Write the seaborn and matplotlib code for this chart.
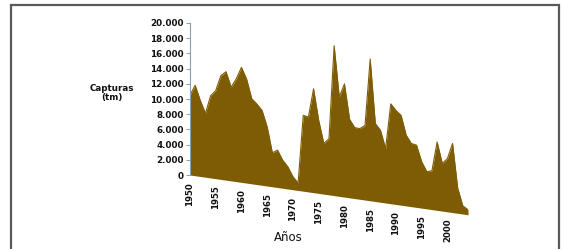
import matplotlib
matplotlib.use("Agg")
import matplotlib.pyplot as plt
import seaborn as sns
import numpy as np
import pandas as pd
from matplotlib.patches import Rectangle
from matplotlib.ticker import FuncFormatter

# ---- data ----
years = list(range(1950, 2005))
capturas = [10500, 11900, 10000, 8400, 10800, 11600, 13650, 14270, 12320, 13550,
            15130, 13680, 11190, 10590, 9850, 7770, 4470, 4920, 3700, 2930,
            1720, 990, 9980, 9850, 13660, 9610, 6660, 7410, 19710, 13050,
            14900, 10330, 9340, 9300, 9830, 18650, 10250, 9470, 7170, 13150,
            12370, 11820, 9300, 8310, 8190, 6110, 4890, 5120, 9000, 6280,
            7000, 9090, 3300, 1080, 660]
tick_years = [1950, 1955, 1960, 1965, 1970, 1975, 1980, 1985, 1990, 1995, 2000]
y_ticks = [0, 2000, 4000, 6000, 8000, 10000, 12000, 14000, 16000, 18000, 20000]

# perspective floor: sloping base (pseudo-3D)
slope = -96.9  # per year, in value units

df = pd.DataFrame({"year": years, "value": capturas})
df["base"] = slope * (df["year"] - 1950)
df["top"] = df["base"] + df["value"]

sns.set_theme(style="white")
plt.rcParams["font.family"] = ["DejaVu Sans"]

W, H = 562, 249
fig = plt.figure(figsize=(W / 100, H / 100), dpi=100)
fig.patch.set_facecolor("white")

# outer border
fig.add_artist(Rectangle((11 / W, -0.05), (559 - 11) / W, 1.05 - 5 / H + 0.0,
                         transform=fig.transFigure, fill=False,
                         edgecolor="#5a5a5a", linewidth=1.6))

ax = fig.add_axes([190 / W, 1 - 220 / H, (468 - 190) / W, (220 - 23) / H])
ax.set_facecolor("none")

color = "#7d5c03"
ax.fill_between(df["year"], df["base"], df["top"], color=color, linewidth=0)
sns.lineplot(data=df, x="year", y="top", ax=ax, color=color, linewidth=0.8)

ax.set_xlim(1950, 2004)
ax.set_ylim(-5920, 20000)

for s in ["top", "right", "bottom"]:
    ax.spines[s].set_visible(False)
ax.spines["left"].set_bounds(0, 20000)
ax.spines["left"].set_color("#8aa0b8")
ax.spines["left"].set_linewidth(0.8)

ax.set_yticks(y_ticks)
ax.yaxis.set_major_formatter(FuncFormatter(lambda v, p: f"{int(v):,}".replace(",", ".")))
ax.tick_params(axis="y", which="major", left=True, length=3, width=0.7,
               color="#8aa0b8", labelsize=6.3, pad=1.5, labelcolor="#111111")
for lab in ax.get_yticklabels():
    lab.set_fontweight("bold")
ax.set_xticks([])
ax.set_xlabel("")
ax.set_ylabel("")

# category labels along the sloped floor
for yr in tick_years:
    ax.annotate(str(yr), xy=(yr, slope * (yr - 1950)), xytext=(0, -5),
                textcoords="offset points", rotation=90, ha="center", va="top",
                fontsize=6.2, fontweight="bold", color="#111111")

fig.text(112 / W, 1 - 93 / H, "Capturas\n(tm)", ha="center", va="center",
         fontsize=6.3, fontweight="bold", color="#111111", linespacing=1.1)
fig.text(288 / W, 1 - 237 / H, "Años", ha="center", va="center",
         fontsize=8.5, color="#111111")

fig.savefig("out.png", dpi=100)
